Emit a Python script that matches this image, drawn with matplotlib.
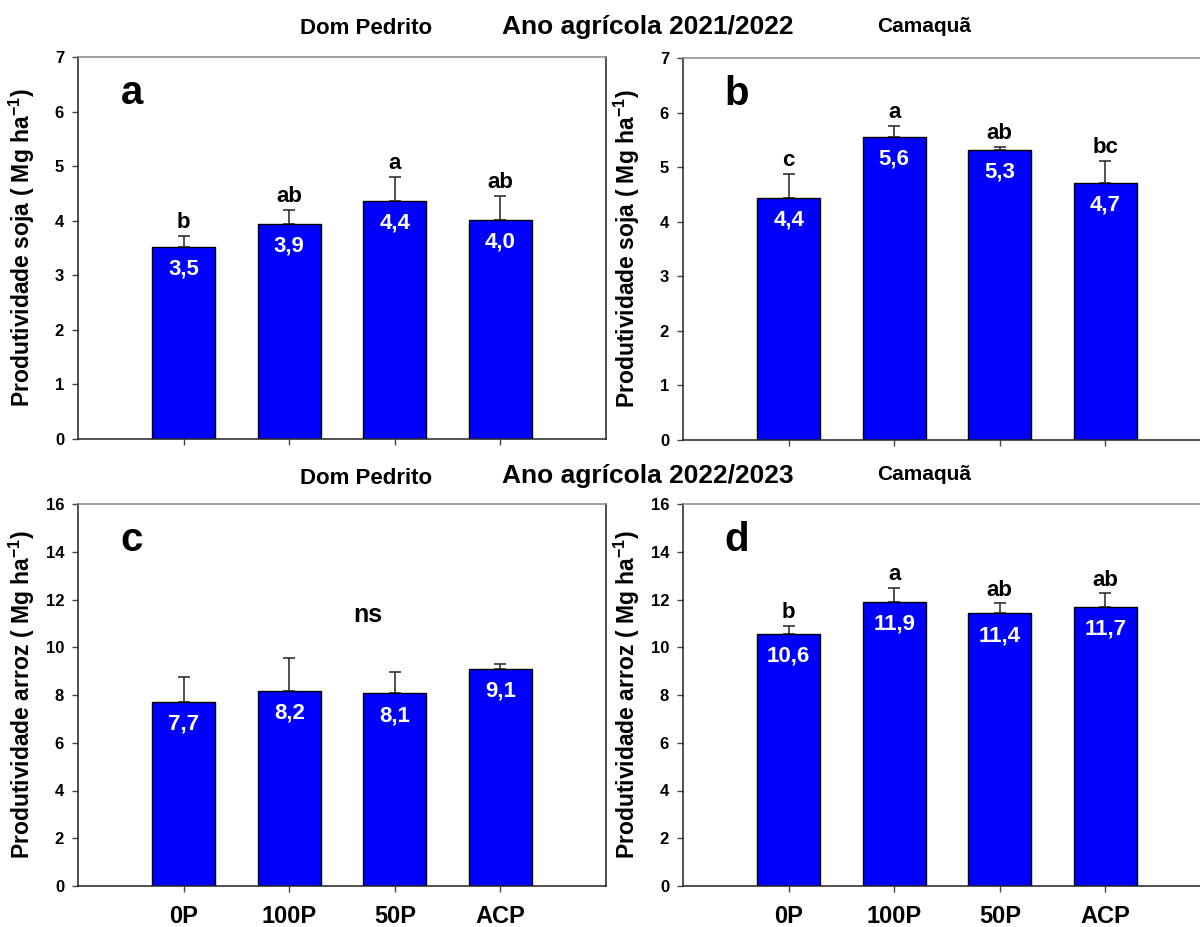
import matplotlib
matplotlib.use("Agg")
import matplotlib.pyplot as plt

plt.rcParams['font.family'] = ['Liberation Sans', 'DejaVu Sans']
plt.rcParams['font.weight'] = 'bold'
plt.rcParams['mathtext.fontset'] = 'custom'
plt.rcParams['mathtext.rm'] = 'Liberation Sans:bold'
plt.rcParams['mathtext.bf'] = 'Liberation Sans:bold'
plt.rcParams['mathtext.default'] = 'bf'

treatments = ['0P', '100P', '50P', 'ACP']

soja_dp = [3.52, 3.94, 4.36, 4.01]
soja_dp_err = [0.20, 0.26, 0.44, 0.45]
soja_dp_txt = ['3,5', '3,9', '4,4', '4,0']
soja_dp_let = ['b', 'ab', 'a', 'ab']

soja_cq = [4.44, 5.56, 5.31, 4.71]
soja_cq_err = [0.43, 0.19, 0.06, 0.41]
soja_cq_txt = ['4,4', '5,6', '5,3', '4,7']
soja_cq_let = ['c', 'a', 'ab', 'bc']

arroz_dp = [7.70, 8.18, 8.07, 9.09]
arroz_dp_err = [1.07, 1.38, 0.88, 0.21]
arroz_dp_txt = ['7,7', '8,2', '8,1', '9,1']
arroz_dp_let = ['', '', '', '']

arroz_cq = [10.55, 11.91, 11.42, 11.70]
arroz_cq_err = [0.35, 0.58, 0.42, 0.56]
arroz_cq_txt = ['10,6', '11,9', '11,4', '11,7']
arroz_cq_let = ['b', 'a', 'ab', 'ab']

W, H = 1200, 927
fig = plt.figure(figsize=(12, 9.27), dpi=100)


def px_axes(left, top, right, bottom):
    return fig.add_axes([left / W, 1 - bottom / H, (right - left) / W, (bottom - top) / H])


def panel(ax, vals, errs, txts, lets, ymax, ylabel, letter, xlabels):
    x = range(len(vals))
    ax.bar(x, vals, width=0.6, color='#0000ff', edgecolor='black', linewidth=1.0, zorder=2)
    ax.errorbar(x, vals, yerr=[[0] * len(vals), errs], fmt='none', ecolor='#333333',
                elinewidth=1.2, capsize=4.5, capthick=1.2, zorder=1)
    for i, (v, e, t, l) in enumerate(zip(vals, errs, txts, lets)):
        ax.annotate(t, (i, v), xytext=(0, -16), textcoords='offset points',
                    ha='center', va='center', color='white', fontsize=16, fontweight='bold')
        if l:
            ax.annotate(l, (i, v + e), xytext=(0, 2), textcoords='offset points',
                        ha='center', va='bottom', color='black', fontsize=16, fontweight='bold')
    ax.set_xlim(-1.0, 4.0)
    ax.set_ylim(0, ymax)
    ax.set_xticks(list(x))
    if xlabels:
        ax.set_xticklabels(treatments, fontsize=17, fontweight='bold')
    else:
        ax.set_xticklabels([])
    ax.tick_params(axis='x', length=4, width=1, color='#444444', pad=10)
    ax.tick_params(axis='y', length=4, width=1, color='#444444', labelsize=12, pad=6)
    for lab in ax.get_yticklabels():
        lab.set_fontweight('bold')
    ax.set_ylabel(ylabel, fontsize=16.5, fontweight='bold')
    ax.yaxis.set_label_coords(-0.078, 0.5)
    ax.spines['top'].set_color('#888888')
    for s in ['left', 'right', 'bottom']:
        ax.spines[s].set_color('#222222')
    for s in ax.spines.values():
        s.set_linewidth(1.1)
    ax.text(0.102, 0.905, letter, transform=ax.transAxes, fontsize=29,
            fontweight='bold', ha='center', va='center')


lab_soja = 'Produtividade soja ( Mg ha$^{-1}$)'
lab_arroz = 'Produtividade arroz ( Mg ha$^{-1}$)'

ax_a = px_axes(78, 57, 606, 439)
panel(ax_a, soja_dp, soja_dp_err, soja_dp_txt, soja_dp_let, 7, lab_soja, 'a', False)
ax_b = px_axes(683, 58, 1211, 440)
panel(ax_b, soja_cq, soja_cq_err, soja_cq_txt, soja_cq_let, 7, lab_soja, 'b', False)
ax_c = px_axes(78, 504, 606, 886)
panel(ax_c, arroz_dp, arroz_dp_err, arroz_dp_txt, arroz_dp_let, 16, lab_arroz, 'c', True)
ax_c.text(1.74, 11.35, 'ns', fontsize=18, fontweight='bold', ha='center', va='center')
ax_d = px_axes(683, 504, 1211, 886)
panel(ax_d, arroz_cq, arroz_cq_err, arroz_cq_txt, arroz_cq_let, 16, lab_arroz, 'd', True)


def ftext(x, y, s, size):
    fig.text(x / W, 1 - y / H, s, fontsize=size, fontweight='bold', ha='center', va='center')


ftext(366, 29, 'Dom Pedrito', 16)
ftext(648, 27, 'Ano agrícola 2021/2022', 19)
ftext(924, 27, 'Camaquã', 15)
ftext(366, 478, 'Dom Pedrito', 16)
ftext(648, 476, 'Ano agrícola 2022/2023', 19)
ftext(924, 474, 'Camaquã', 15)

fig.savefig('out.png', dpi=100)
